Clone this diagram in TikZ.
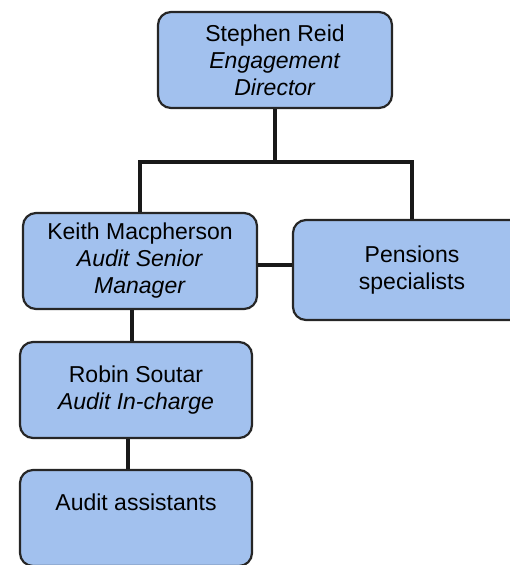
\documentclass[tikz,border=0pt]{standalone}
\usepackage{fontspec}
\setmainfont{Liberation Sans}
\usepackage{tikz}

\begin{document}
\definecolor{boxblue}{RGB}{162,193,238}
\begin{tikzpicture}[x=1pt,y=-1pt,
    	role/.style={draw=black!85,line width=2.2pt,fill=boxblue,rounded corners=13pt,
    		align=center,minimum height=96pt,inner sep=2pt,
    		font=\fontsize{23}{27}\selectfont},
    	link/.style={line width=4.5pt,black!90}]
    		\useasboundingbox (0,0) rectangle (510,565);
    		\node (reid) at (275,60) [role,minimum width=234pt] {Stephen Reid\\\textit{Engagement}\\\textit{Director}};
    		\node (keith) at (140,261) [role,minimum width=234pt] {Keith Macpherson\\\textit{Audit Senior}\\\textit{Manager}};
    		\node (pens) at (412,270) [role,minimum width=238pt,minimum height=100pt] {Pensions\\specialists};
    		\node (robin) at (136,390) [role,minimum width=232pt] {Robin Soutar\\\textit{Audit In-charge}};
    		\node (assist) at (136,518) [role,minimum width=232pt,text depth=32pt] {Audit assistants};
    		\coordinate (split) at (275,162);
    		\draw [link] (reid.south) -- (split);
    		\draw [link,line join=miter] (keith.north) |- (split) -| (pens.north);
    		\draw [link] ([yshift=-4pt]keith.east) -- ([yshift=5pt]pens.west);
    		\draw [link] ([xshift=-4pt]robin.north) -- ([xshift=-4pt]robin.north |- keith.south);
    		\draw [link] ([xshift=-8pt]robin.south) -- ([xshift=-8pt]assist.north);
    		\end{tikzpicture}
\end{document}
